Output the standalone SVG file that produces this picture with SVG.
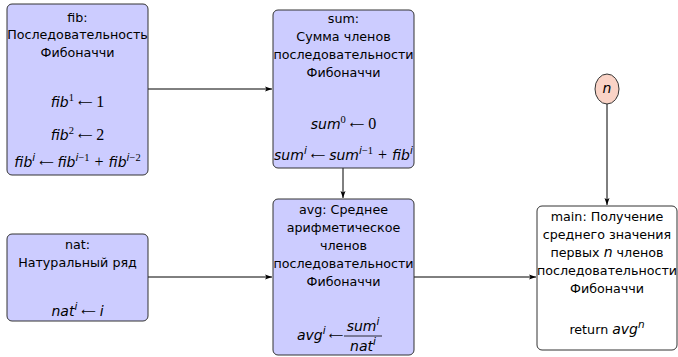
<svg xmlns="http://www.w3.org/2000/svg" width="678" height="357" viewBox="0 0 678 357">
<defs>
<marker id="ah" markerWidth="8" markerHeight="6" refX="7" refY="3" orient="auto" markerUnits="userSpaceOnUse">
<path d="M0,0.5 L7,3 L0,5.5 L1.5,3 Z" fill="#000"/>
</marker>
</defs>
<style>
.box{fill:#ccccff;stroke:#333;stroke-width:1}
.main{fill:#fff;stroke:#333;stroke-width:1}
.circ{fill:#fad3c6;stroke:#333;stroke-width:1}
text{font-family:"DejaVu Sans","Noto Sans",sans-serif;font-size:12.7px;fill:#000;text-anchor:middle}
.m{font-style:italic;font-size:14px}
.s{font-family:"Liberation Serif",serif;font-style:normal;font-size:16px}
.a{font-family:"DejaVu Sans",sans-serif;font-style:normal;font-size:10px}
.sup{font-size:10.5px}
.st{text-anchor:start}
.ln{stroke:#000;stroke-width:1;fill:none;marker-end:url(#ah)}
</style>
<g id="connectors">
<line class="ln" x1="148" y1="89" x2="272" y2="89"/>
<line class="ln" x1="343" y1="168" x2="343" y2="198"/>
<line class="ln" x1="148" y1="277" x2="272" y2="277"/>
<line class="ln" x1="414" y1="277" x2="536" y2="277"/>
<line class="ln" x1="607" y1="104" x2="607" y2="205"/>
</g>
<g id="fib">
<rect class="box" x="7" y="4" width="141" height="171" rx="5"/>
<text x="77.5" y="22">fib:</text>
<text x="77.5" y="39">Последовательность</text>
<text x="77.5" y="57">Фибоначчи</text>
<text x="77.5" y="107"><tspan class="m">fib</tspan><tspan class="s sup" dy="-6">1</tspan><tspan class="a" dy="5" dx="4">⟵</tspan><tspan class="s" dy="1" dx="4">1</tspan></text>
<text x="77.5" y="140"><tspan class="m">fib</tspan><tspan class="s sup" dy="-6">2</tspan><tspan class="a" dy="5" dx="4">⟵</tspan><tspan class="s" dy="1" dx="4">2</tspan></text>
<text x="77.5" y="167"><tspan class="m">fib</tspan><tspan class="m sup" dy="-6">i</tspan><tspan class="a" dy="5" dx="4">⟵</tspan><tspan class="m" dy="1" dx="4">fib</tspan><tspan class="m sup" dy="-6">i</tspan><tspan class="s sup">−1</tspan><tspan class="s" dy="6" dx="5">+</tspan><tspan class="m" dx="5">fib</tspan><tspan class="m sup" dy="-6">i</tspan><tspan class="s sup">−2</tspan></text>
</g>
<g id="sum">
<rect class="box" x="273" y="10" width="141" height="158" rx="5"/>
<text x="343.5" y="23">sum:</text>
<text x="343.5" y="41">Сумма членов</text>
<text x="343.5" y="59">последовательности</text>
<text x="343.5" y="77">Фибоначчи</text>
<text x="343.5" y="129"><tspan class="m">sum</tspan><tspan class="s sup" dy="-6">0</tspan><tspan class="a" dy="5" dx="4">⟵</tspan><tspan class="s" dy="1" dx="4">0</tspan></text>
<text x="343.5" y="160"><tspan class="m">sum</tspan><tspan class="m sup" dy="-6">i</tspan><tspan class="a" dy="5" dx="4">⟵</tspan><tspan class="m" dy="1" dx="4">sum</tspan><tspan class="m sup" dy="-6">i</tspan><tspan class="s sup">−1</tspan><tspan class="s" dy="6" dx="5">+</tspan><tspan class="m" dx="5">fib</tspan><tspan class="m sup" dy="-6">i</tspan></text>
</g>
<g id="nat">
<rect class="box" x="7" y="234" width="141" height="87" rx="5"/>
<text x="77.5" y="249">nat:</text>
<text x="77.5" y="267">Натуральный ряд</text>
<text x="77.5" y="316"><tspan class="m">nat</tspan><tspan class="m sup" dy="-6">i</tspan><tspan class="a" dy="5" dx="4">⟵</tspan><tspan class="m" dy="1" dx="4">i</tspan></text>
</g>
<g id="avg">
<rect class="box" x="273" y="199" width="141" height="156" rx="5"/>
<text x="343.5" y="214">avg:  Среднее</text>
<text x="343.5" y="232">арифметическое</text>
<text x="343.5" y="250">членов</text>
<text x="343.5" y="268">последовательности</text>
<text x="343.5" y="286">Фибоначчи</text>
<text class="st" x="297" y="340"><tspan class="m">avg</tspan><tspan class="m sup" dy="-6">i</tspan><tspan class="a" dy="5" dx="3">⟵</tspan></text>
<text x="363" y="331"><tspan class="m">sum</tspan><tspan class="m sup" dy="-6">i</tspan></text>
<line x1="344" y1="336" x2="382" y2="336" stroke="#000" stroke-width="0.8"/>
<text x="363" y="351"><tspan class="m">nat</tspan><tspan class="m sup" dy="-6">i</tspan></text>
</g>
<g id="main">
<rect class="main" x="537" y="206" width="140" height="144" rx="5"/>
<text x="607" y="221">main:  Получение</text>
<text x="607" y="239">среднего значения</text>
<text x="607" y="257">первых <tspan class="m">n</tspan> членов</text>
<text x="607" y="275">последовательности</text>
<text x="607" y="293">Фибоначчи</text>
<text x="607" y="334">return <tspan class="m">avg</tspan><tspan class="m sup" dy="-6">n</tspan></text>
</g>
<g id="n">
<ellipse class="circ" cx="607" cy="89" rx="12" ry="15"/>
<text x="607" y="93" class="m">n</text>
</g>
</svg>
